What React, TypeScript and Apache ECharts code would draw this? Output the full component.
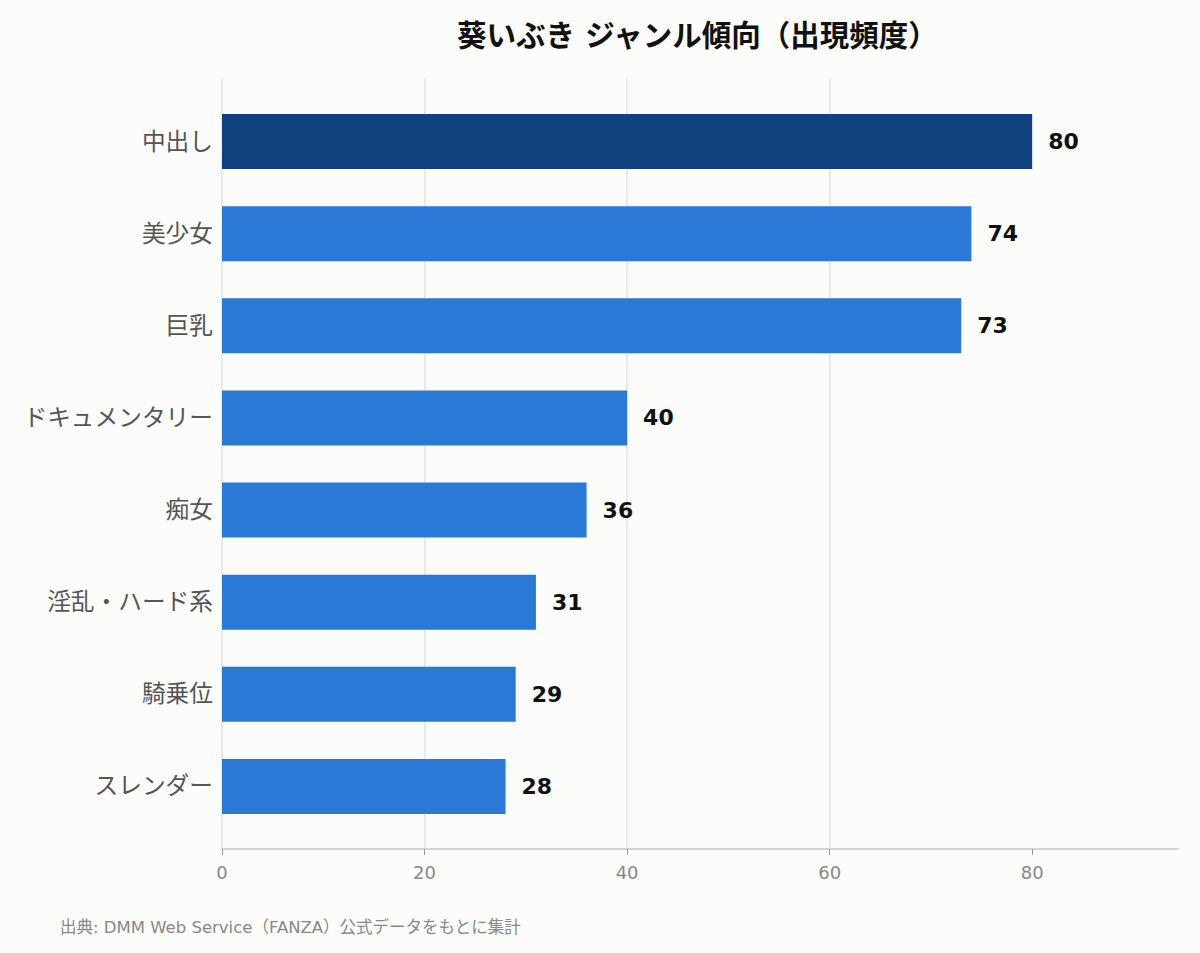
import { useEffect, useRef } from "react"
import * as echarts from "echarts"

const categories = ["中出し", "美少女", "巨乳", "ドキュメンタリー", "痴女", "淫乱・ハード系", "騎乗位", "スレンダー"]
const counts = [80, 74, 73, 40, 36, 31, 29, 28]
const xTicks = [0, 20, 40, 60, 80]
const xMax = 94.4

const FONT = "DejaVu Sans, Noto Sans CJK JP, sans-serif"
const TOP_COLOR = "#10417F"
const BAR_COLOR = "#2A79D6"

export default function App() {
  const chartRef = useRef<HTMLDivElement>(null)

  useEffect(() => {
    document.body.style.margin = "0"
    if (!chartRef.current) return
    const chart = echarts.init(chartRef.current, null, { renderer: "svg" })

    const option = {
      animation: false,
      backgroundColor: "#FCFCFA",
      textStyle: { fontFamily: FONT },
      title: {
        text: "葵いぶき ジャンル傾向（出現頻度）",
        left: 452,
        top: 16,
        textStyle: { fontFamily: FONT, fontSize: 29.5, fontWeight: "bold", color: "#111" },
      },
      grid: [
        // frame grid: axis line, ticks and grid lines
        { left: 222, right: 22, top: 79, bottom: 104 },
        // bars sit inside a slightly inset band
        { left: 222, right: 22, top: 95.5, bottom: 120.5 },
      ],
      xAxis: [
        {
          type: "value",
          gridIndex: 0,
          min: 0,
          max: xMax,
          interval: 20,
          axisLine: { show: true, lineStyle: { color: "#C8C8C2", width: 1.5 } },
          axisTick: { show: true, length: 6, customValues: xTicks, lineStyle: { color: "#999" } },
          axisLabel: {
            customValues: xTicks,
            color: "#888",
            fontSize: 18,
            margin: 14,
            fontFamily: FONT,
          },
          splitLine: { show: true, showMaxLine: false, lineStyle: { color: "#E2E2DE", width: 1.5 } },
        },
        {
          type: "value",
          gridIndex: 1,
          min: 0,
          max: xMax,
          show: false,
        },
      ],
      yAxis: [
        { type: "category", gridIndex: 0, show: false, data: categories },
        {
          type: "category",
          gridIndex: 1,
          inverse: true,
          data: categories,
          axisLine: { show: false },
          axisTick: { show: false },
          splitLine: { show: false },
          axisLabel: { color: "#555", fontSize: 23.7, margin: 9, fontFamily: FONT },
        },
      ],
      series: [
        {
          type: "bar",
          xAxisIndex: 1,
          yAxisIndex: 1,
          barWidth: 55,
          data: counts.map((v, i) => ({
            value: v,
            itemStyle: { color: i === 0 ? TOP_COLOR : BAR_COLOR },
          })),
          label: {
            show: true,
            position: "right",
            distance: 16,
            fontFamily: FONT,
            fontSize: 22,
            fontWeight: "bold",
            color: "#111",
          },
        },
      ],
      graphic: [
        {
          type: "text",
          left: 60,
          top: 919,
          style: {
            text: "出典: DMM Web Service（FANZA）公式データをもとに集計",
            fontFamily: FONT,
            fontSize: 16.5,
            fill: "#888",
          },
        },
      ],
    }

    chart.setOption(option)
    return () => chart.dispose()
  }, [])

  return <div ref={chartRef} style={{ width: 1200, height: 953 }} />
}
